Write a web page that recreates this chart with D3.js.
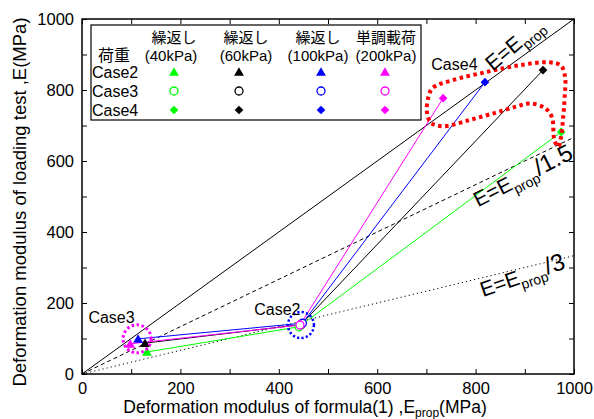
<!DOCTYPE html>
<html>
<head>
<meta charset="utf-8">
<script src="https://cdn.jsdelivr.net/npm/d3@7"></script>
<style>
  body { margin: 0; background: #fff; }
  svg { display: block; font-family: "Liberation Sans", "Noto Sans CJK JP", sans-serif; }
</style>
</head>
<body>
<div id="chart"></div>
<script>
// series = loading pressure, points = Case2 / Case3 / Case4
const LOADS = ['繰返し', '繰返し', '繰返し', '単調載荷'];
const PRESSURES = ['(40kPa)', '(60kPa)', '(100kPa)', '(200kPa)'];
const CASES = ['Case2', 'Case3', 'Case4'];

const case2Prop = [132, 128, 114, 98];
const case2E    = [62, 87, 99, 85];
const case3Prop = [441, 445, 448, 443];
const case3E    = [133, 139, 143, 138];
const case4Prop = [974, 937, 819, 734];
const case4E    = [682, 856, 822, 777];

const TICKS = d3.range(0, 1001, 100);
const RATIOS = [1, 1.5, 3];

// red dotted outline around Case4, in data units
const case4Outline = [
  [713, 806], [754, 828], [823, 851], [890, 870], [950, 878], [974, 868],
  [982, 835], [981, 780], [978, 724], [974, 670], [968, 640], [960, 660],
  [955, 724], [940, 750], [911, 762], [884, 754], [843, 737], [789, 716],
  [734, 698], [709, 708], [701, 740], [704, 780]
];

const COLORS = ['#00ff00', '#000000', '#0000ff', '#ff00ff'];

const W = 594, H = 419;
const svg = d3.select('#chart').append('svg').attr('width', W).attr('height', H);

const x = d3.scaleLinear().domain([0, 1000]).range([82, 574]);
const y = d3.scaleLinear().domain([0, 1000]).range([374, 19]);

// axes (ticks inside, on all four sides)
const fmt = d => d % 200 === 0 ? d : '';
svg.append('g').attr('transform', `translate(0,${y(0)})`)
  .call(d3.axisBottom(x).tickValues(TICKS).tickSize(-5).tickPadding(8).tickFormat(fmt));
svg.append('g').attr('transform', `translate(${x(0)},0)`)
  .call(d3.axisLeft(y).tickValues(TICKS).tickSize(-5).tickPadding(8).tickFormat(fmt));
svg.append('g').attr('transform', `translate(0,${y(1000)})`)
  .call(d3.axisTop(x).tickValues(TICKS).tickSize(-5).tickFormat(''));
svg.append('g').attr('transform', `translate(${x(1000)},0)`)
  .call(d3.axisRight(y).tickValues(TICKS).tickSize(-5).tickFormat(''));
svg.selectAll('.domain').remove();
svg.selectAll('.tick line').attr('stroke', '#000');
svg.selectAll('.tick text').attr('font-size', 16.5).attr('fill', '#000')
  .attr('font-family', '"Liberation Sans", sans-serif');

svg.append('rect')
  .attr('x', x(0)).attr('y', y(1000))
  .attr('width', x(1000) - x(0)).attr('height', y(0) - y(1000))
  .attr('fill', 'none').attr('stroke', '#000').attr('stroke-width', 1.5);

// reference lines E = Eprop / k
const dashes = [null, '4,3', '1.2,3'];
RATIOS.forEach((k, i) => {
  svg.append('line')
    .attr('x1', x(0)).attr('y1', y(0))
    .attr('x2', x(1000)).attr('y2', y(1000 / k))
    .attr('stroke', '#000').attr('stroke-width', 1)
    .attr('stroke-dasharray', dashes[i]);
});

// series lines
const line = d3.line().x(d => x(d[0])).y(d => y(d[1]));
COLORS.forEach((c, i) => {
  const pts = [[case2Prop[i], case2E[i]], [case3Prop[i], case3E[i]], [case4Prop[i], case4E[i]]];
  svg.append('path').attr('d', line(pts))
    .attr('fill', 'none').attr('stroke', c).attr('stroke-width', 1);
});

// markers
const tri = d3.symbol().type(d3.symbolTriangle).size(42);
const dia = d3.symbol().type(d3.symbolSquare).size(38);
function drawTri(g, cx, cy, c) {
  g.append('path').attr('d', tri()).attr('transform', `translate(${cx},${cy + 1})`).attr('fill', c);
}
function drawCirc(g, cx, cy, c) {
  g.append('circle').attr('cx', cx).attr('cy', cy).attr('r', 4)
    .attr('fill', '#fff').attr('stroke', c).attr('stroke-width', 1.3);
}
function drawDia(g, cx, cy, c) {
  g.append('path').attr('d', dia()).attr('transform', `translate(${cx},${cy}) rotate(45)`).attr('fill', c);
}

const marks = svg.append('g');
COLORS.forEach((c, i) => drawCirc(marks, x(case3Prop[i]), y(case3E[i]), c));
COLORS.forEach((c, i) => drawTri(marks, x(case2Prop[i]), y(case2E[i]), c));
COLORS.forEach((c, i) => drawDia(marks, x(case4Prop[i]), y(case4E[i]), c));

// annotations: dotted circles and outline
svg.append('circle').attr('cx', x(112)).attr('cy', y(99)).attr('r', 14)
  .attr('fill', 'none').attr('stroke', '#ff00ff').attr('stroke-width', 3)
  .attr('stroke-dasharray', '2.5,2.5');
svg.append('circle').attr('cx', x(445)).attr('cy', y(138)).attr('r', 13)
  .attr('fill', 'none').attr('stroke', '#0000ff').attr('stroke-width', 2.5)
  .attr('stroke-dasharray', '2.2,2.2');
svg.append('path')
  .attr('d', d3.line().x(d => x(d[0])).y(d => y(d[1])).curve(d3.curveCatmullRomClosed)(case4Outline))
  .attr('fill', 'none').attr('stroke', '#ff0000').attr('stroke-width', 4)
  .attr('stroke-dasharray', '3.5,3.5');

const label = (t, xv, yv) => svg.append('text').attr('x', x(xv)).attr('y', y(yv))
  .attr('font-size', 16).text(t);
label('Case3', 13, 144);
label('Case2', 350, 166);
label('Case4', 710, 856);

// rotated reference-line labels
const refLabels = [
  { xv: 835, yv: 852, rot: -40, tail: '' },
  { xv: 805, yv: 470, rot: -27, tail: '/1.5' },
  { xv: 815, yv: 217, rot: -19, tail: '/3' }
];
refLabels.forEach(r => {
  const t = svg.append('text')
    .attr('transform', `translate(${x(r.xv)},${y(r.yv)}) rotate(${r.rot})`)
    .attr('font-size', 21);
  t.append('tspan').text('E=E');
  t.append('tspan').attr('font-size', 14).attr('dy', 6).text('prop');
  if (r.tail) t.append('tspan').attr('font-size', 24).attr('dy', -6).text(r.tail);
});

// axis titles
const xt = svg.append('text').attr('x', 305).attr('y', 413)
  .attr('text-anchor', 'middle').attr('font-size', 17.5);
xt.append('tspan').text('Deformation modulus of formula(1) ,E');
xt.append('tspan').attr('font-size', 12).attr('dy', 4).text('prop');
xt.append('tspan').attr('dy', -4).text('(MPa)');

svg.append('text')
  .attr('transform', `translate(26,202) rotate(-90)`)
  .attr('text-anchor', 'middle').attr('font-size', 18.5)
  .text('Deformation modulus of loading test ,E(MPa)');

// legend
const lg = svg.append('g');
lg.append('rect').attr('x', 91).attr('y', 25).attr('width', 330).attr('height', 95)
  .attr('fill', '#fff').attr('stroke', '#000').attr('stroke-width', 1.2);
const colX = [174, 246, 318, 386];
const markX = [174, 239, 321, 385];
lg.append('text').attr('x', 114).attr('y', 61).attr('text-anchor', 'middle')
  .attr('font-size', 16).text('荷重');
LOADS.forEach((t, i) => {
  lg.append('text').attr('x', colX[i]).attr('y', 43).attr('text-anchor', 'middle')
    .attr('font-size', 15).text(t);
  lg.append('text').attr('x', colX[i] - (i === 0 ? 3 : 0)).attr('y', 61).attr('text-anchor', 'middle')
    .attr('font-size', 15).text(PRESSURES[i]);
});
const rowY = [72, 91, 110];
const drawers = [drawTri, drawCirc, drawDia];
CASES.forEach((c, r) => {
  lg.append('text').attr('x', 92).attr('y', rowY[r] + 6).attr('font-size', 16).text(c);
  COLORS.forEach((col, i) => drawers[r](lg, markX[i], rowY[r], col));
});
</script>
</body>
</html>
